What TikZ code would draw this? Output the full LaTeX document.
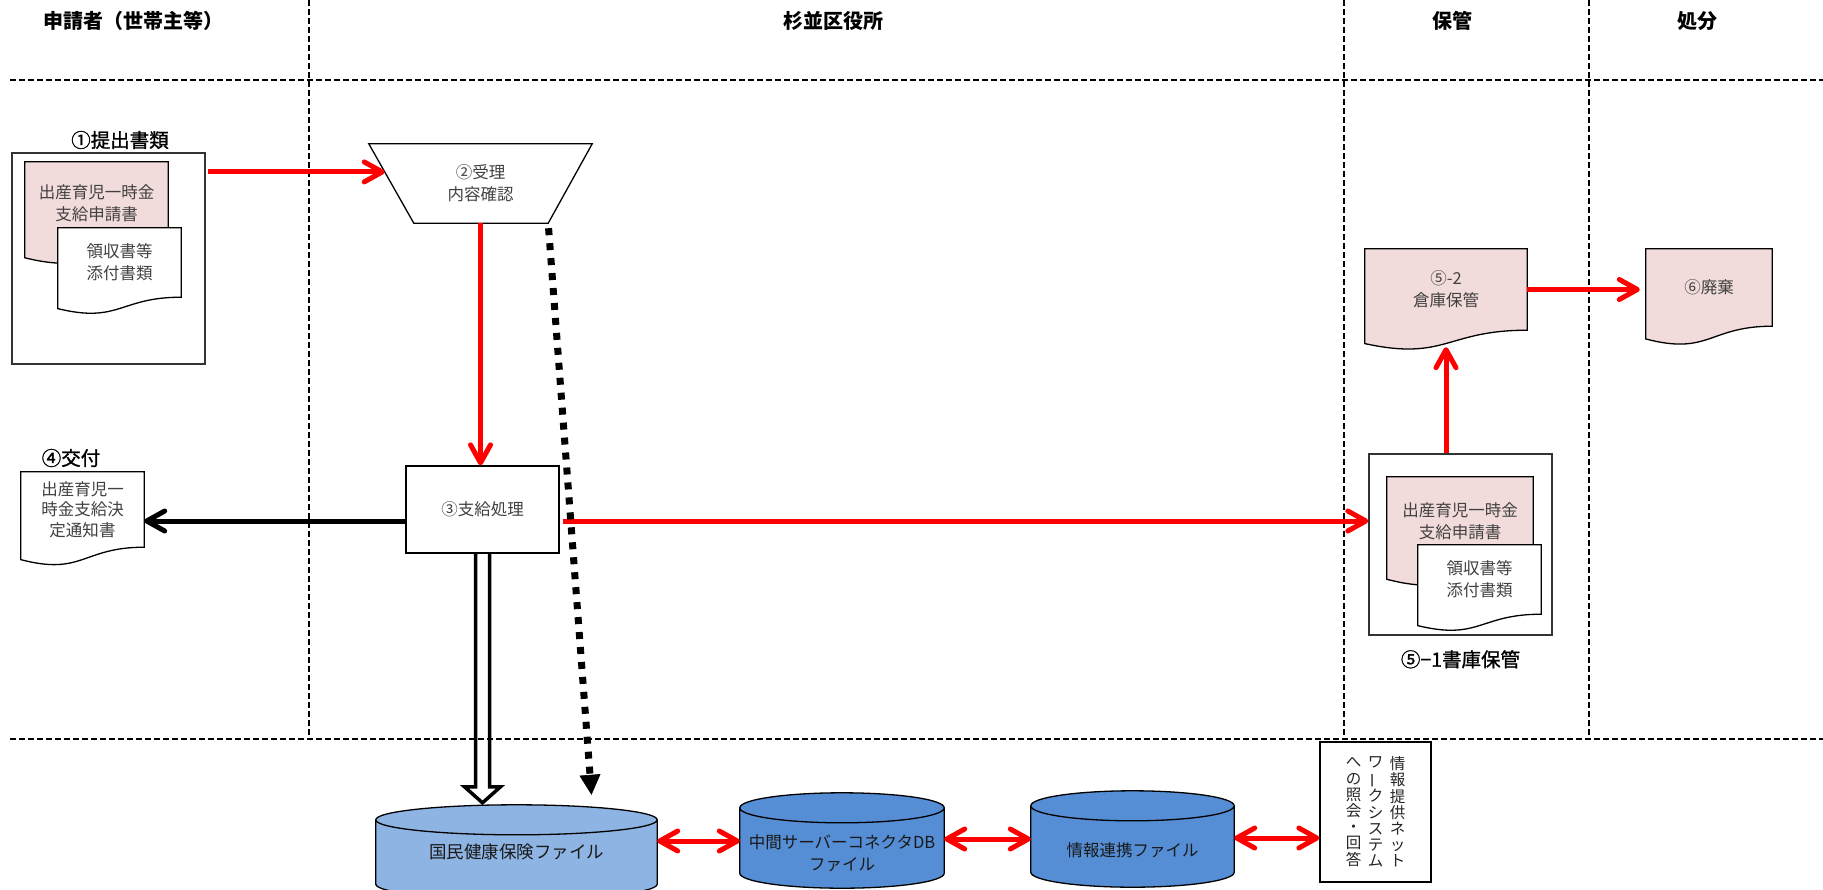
\documentclass[tikz,border=0pt]{standalone}
\usepackage{fontspec}
\usepackage{graphicx}
\setmainfont{Noto Sans CJK JP}
\newfontfamily\tagfont{Noto Sans CJK JP}[FakeBold=1.2]
\usetikzlibrary{arrows.meta,positioning,calc}
\definecolor{flowred}{HTML}{FF0000}
\definecolor{paperpink}{HTML}{F2DCDB}
\definecolor{dblight}{HTML}{8EB4E3}
\definecolor{dbblue}{HTML}{558ED5}
\definecolor{textgray}{HTML}{404040}
\pgfdeclarelayer{back}
\pgfdeclarelayer{mid}
\pgfsetlayers{back,mid,main}

% paper outline with wavy bottom, drawn behind a node
\newcommand\wavedoc[2]{%
  \begin{pgfonlayer}{mid}
    \draw[line width=1.3pt, fill=#2] let \p1=(#1.north west), \p2=(#1.south east) in
      (\x1,\y1) -- (\x2,\y1) -- (\x2,\y2)
      .. controls ({(\x1+\x2)/2},\y2) and ({(\x1+\x2)/2},{\y1-1.381*(\y1-\y2)}) ..
      (\x1,{\y1-1.1646*(\y1-\y2)}) -- cycle;
  \end{pgfonlayer}}

% database cylinder behind a node: name, fill, radius, cut
\newcommand\dbcyl[4]{%
  \begin{pgfonlayer}{mid}
    \draw[line width=1.3pt, fill=#2] let \p1=(#1.north west), \p2=(#1.south east), \n1={(\x2-\x1)/2} in
      (\x1,\y1) -- (\x1,{\y2+#4}) arc[start angle=180, end angle=360, x radius=\n1, y radius=#3]
      -- (\x2,\y1) arc[start angle=0, end angle=180, x radius=\n1, y radius=#3] -- cycle
      (\x1,\y1) arc[start angle=180, end angle=360, x radius=\n1, y radius=#3];
  \end{pgfonlayer}}

\begin{document}
\begin{tikzpicture}[
  x=1pt, y=-1pt,
  lane/.style={draw=black, line width=1.4pt, dash pattern=on 6pt off 3pt},
  head/.style={font=\fontsize{20}{24}\selectfont\bfseries},
  tag/.style={font=\tagfont\fontsize{19.5}{23}\selectfont},
  frame/.style={rectangle, draw=black!80, line width=1.4pt, fill=white},
  box/.style={rectangle, draw=black, line width=1.3pt, fill=white, align=center, text=textgray, font=\fontsize{16.5}{22}\selectfont},
  paper/.style={rectangle, inner sep=0pt, align=center, text=textgray, font=\fontsize{16.5}{22}\selectfont},
  dbtext/.style={rectangle, inner sep=0pt, align=center, text=black!90, font=\fontsize{16.5}{22}\selectfont},
  vcol/.style={inner sep=0pt, align=center, text=black!85, font=\fontsize{15.5}{16.2}\selectfont},
  barb/.tip={Straight Barb[length=18pt, width=20pt, round]},
  redflow/.style={draw=flowred, line width=5pt, -barb},
  redboth/.style={draw=flowred, line width=5pt, barb-barb},
  blackflow/.style={draw=black, line width=5pt, -barb},
  dotflow/.style={draw=black, line width=7pt, dash pattern=on 7pt off 8pt, -{Triangle[length=20pt, width=21pt, line width=0.6pt]}},
  hollow/.style={draw=black, line width=3.5pt, line join=miter}
]
\useasboundingbox (0,0) rectangle (1823,889);

% swim lanes
\begin{pgfonlayer}{back}
  \draw[lane] (10,80) -- (1823,80);
  \draw[lane] (10,739) -- (1823,739);
  \foreach \x in {309,1344,1589}
    \draw[lane] (\x,0) -- (\x,739);
  \node[frame, minimum width=193pt, minimum height=211pt] (sub) at (108.5,258.5) {};
  \node[frame, minimum width=183pt, minimum height=181pt] (store1) at (1460.5,544.5) {};
\end{pgfonlayer}

\node[head] (hApp) at (133,21) {申請者（世帯主等）};
\node[head] (hWard) at (833,21) {杉並区役所};
\node[head] (hKeep) at (1452,21) {保管};
\node[head] (hDisp) at (1697,21) {処分};

% applicant
\node[tag] (subTag) at (120,140) {①提出書類};
\node[paper, minimum width=143pt, minimum height=82pt] (form1) at (96.5,203) {出産育児一時金\\支給申請書};
\wavedoc{form1}{paperpink}
\node[paper, minimum width=123pt, minimum height=69pt] (att1) at (119.5,262.5) {領収書等\\添付書類};
\wavedoc{att1}{white}

\node[tag] (ntcTag) at (71,458) {④交付};
\node[paper, minimum width=123pt, minimum height=75pt, font=\fontsize{16.5}{20.5}\selectfont] (ntc) at (82.5,509.5) {出産育児一\\時金支給決\\定通知書};
\wavedoc{ntc}{white}

% ward office
\node[paper, minimum width=223pt, minimum height=79pt] (rcpt) at (480.5,183.5) {②受理\\内容確認};
\coordinate (rcptBL) at ($(rcpt.south west)+(45,0)$);
\coordinate (rcptBR) at ($(rcpt.south east)+(-44,0)$);
\draw[line width=1.3pt] (rcpt.north west) -- (rcpt.north east) -- (rcptBR) -- (rcptBL) -- cycle;
\coordinate (rcptIn) at ($(rcpt.north west)!0.354!(rcptBL)$);

\node[box, minimum width=153pt, minimum height=87pt] (proc) at (482.5,509.5) {③支給処理};

% storage and disposal
\node[paper, minimum width=162pt, minimum height=81pt] (ware) at (1446,289.5) {⑤-2\\倉庫保管};
\wavedoc{ware}{paperpink}
\node[paper, minimum width=126pt, minimum height=77pt] (disp) at (1709,287.5) {⑥廃棄};
\wavedoc{disp}{paperpink}
\node[paper, minimum width=146pt, minimum height=87.6pt] (form2) at (1460,520.8) {出産育児一時金\\支給申請書};
\wavedoc{form2}{paperpink}
\node[paper, minimum width=123pt, minimum height=69pt] (att2) at (1479.5,579.5) {領収書等\\添付書類};
\wavedoc{att2}{white}
\node[tag, below=11pt of store1] (storeTag) {⑤−1書庫保管};

% files
\node[dbtext, minimum width=281pt, minimum height=64pt, font=\fontsize{17.5}{22}\selectfont] (nhi) at (516.5,852) {国民健康保険ファイル};
\dbcyl{nhi}{dblight}{15pt}{0pt}
\node[dbtext, minimum width=204pt, minimum height=90pt] (relay) at (842,853) {中間サーバーコネクタDB\\ファイル};
\dbcyl{relay}{dbblue}{15pt}{25pt}
\node[dbtext, minimum width=203pt, minimum height=88pt] (link) at (1132.5,850) {情報連携ファイル};
\dbcyl{link}{dbblue}{15pt}{22pt}

\node[box, minimum width=111pt, minimum height=140pt, inner sep=0pt] (net) at (1375.5,812) {};
\node[vcol] (netR) at ($(net)+(22,0)$) {情\\報\\提\\供\\ネ\\ッ\\ト};
\node[vcol] (netM) at (net) {ワ\\\rotatebox[origin=c]{90}{ー}\\ク\\シ\\ス\\テ\\ム};
\node[vcol] (netL) at ($(net)+(-22,0)$) {へ\\の\\照\\会\\・\\回\\答};

% connectors
\draw[redflow, shorten <=2pt] (sub.east |- rcptIn) -- (rcptIn);
\draw[redflow] (rcpt.south) -- (rcpt.south |- proc.north);
\draw[blackflow] ($(proc.west)+(0,11.5)$) coordinate (b0) -- (b0 -| ntc.east);
\draw[redflow, shorten <=3pt] ($(proc.east)+(0,11.5)$) coordinate (r0) -- (r0 -| store1.west);
\draw[redflow] (store1.north -| ware.south) -- ($(ware.south)+(0,17)$);
\draw[redflow, shorten >=6pt] (ware.east) -- (ware.east -| disp.west);
\draw[dotflow, shorten <=5pt] (rcptBR) -- ($(nhi.north)+(75,-25)$);
\coordinate (tipN) at ($(proc.south |- nhi.north)+(0,-17)$);
\draw[hollow] ($(proc.south)+(-7,0)$) -- ($(tipN)+(-7,-16)$) -- ($(tipN)+(-18,-16)$) -- (tipN)
  -- ($(tipN)+(18,-16)$) -- ($(tipN)+(7,-16)$) -- ($(proc.south)+(7,0)$);
\coordinate (l1) at ($(nhi.east)+(0,-11)$);
\draw[redboth] (l1) -- (l1 -| relay.west);
\coordinate (l2) at ($(relay.east)+(0,-14)$);
\draw[redboth] (l2) -- (l2 -| link.west);
\coordinate (l3) at ($(link.east)+(0,-12)$);
\draw[redboth] (l3) -- (l3 -| net.west);
\end{tikzpicture}
\end{document}
